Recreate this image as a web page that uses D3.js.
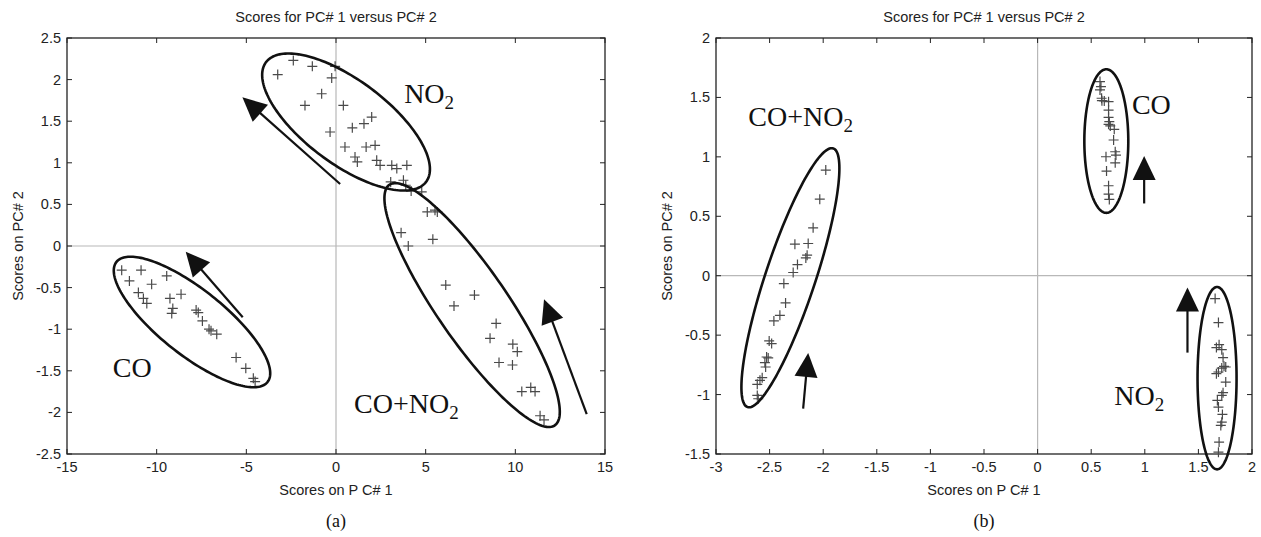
<!DOCTYPE html>
<html>
<head>
<meta charset="utf-8">
<script src="https://cdn.jsdelivr.net/npm/d3@7/dist/d3.min.js"></script>
<style>
  html, body { margin: 0; padding: 0; background: #fff; }
  svg { display: block; }
  .tick-label, .axis-title, .plot-title { font-family: "Liberation Sans", Arial, sans-serif; fill: #222; }
  .serif { font-family: "Liberation Serif", "Times New Roman", serif; fill: #111; }
</style>
</head>
<body>
<svg id="chart" width="1261" height="537"></svg>
<script>
// ---------- Panel (a): PCA scores, wide PC#1 range ----------
const aXTicks = [-15, -10, -5, 0, 5, 10, 15];
const aYTicks = [2.5, 2, 1.5, 1, 0.5, 0, -0.5, -1, -1.5, -2, -2.5];

const aNO2 = [
  [-3.25, 2.06], [-2.38, 2.23], [-1.32, 2.16], [-0.05, 2.16], [-0.24, 2.02],
  [-0.80, 1.83], [-1.73, 1.69], [0.41, 1.69], [-0.33, 1.37], [0.91, 1.42],
  [1.56, 1.47], [1.99, 1.55], [0.50, 1.19], [1.68, 1.19], [2.18, 1.21],
  [1.06, 1.07], [1.19, 1.01], [2.27, 1.03], [2.46, 0.97], [3.11, 0.97],
  [3.39, 0.93], [3.95, 0.97], [3.05, 0.77], [3.76, 0.79], [3.89, 0.73]
];
const aCONO2 = [
  [4.19, 0.66], [4.78, 0.65], [5.09, 0.41], [5.52, 0.43], [5.65, 0.41],
  [3.63, 0.16], [4.03, 0.00], [5.40, 0.08], [6.12, -0.47], [6.58, -0.72],
  [7.72, -0.59], [8.93, -0.93], [8.59, -1.11], [9.86, -1.18], [10.11, -1.27],
  [9.09, -1.40], [9.84, -1.43], [10.36, -1.75], [10.86, -1.70], [11.10, -1.75],
  [11.38, -2.04], [11.60, -2.09]
];
const aCO = [
  [-11.95, -0.29], [-10.87, -0.29], [-11.52, -0.42], [-10.28, -0.46], [-9.44, -0.36],
  [-11.02, -0.56], [-10.74, -0.63], [-10.55, -0.69], [-9.26, -0.63], [-8.64, -0.58],
  [-9.10, -0.75], [-9.16, -0.81], [-7.80, -0.77], [-7.68, -0.80], [-7.45, -0.90],
  [-7.08, -1.00], [-6.97, -1.02], [-6.65, -1.06], [-5.57, -1.34], [-5.03, -1.47],
  [-4.61, -1.59], [-4.51, -1.63]
];

// Ellipses: centre plus two conjugate semi-axis vectors, all in score units
const aEllipses = [
  { cx: 0.56, cy: 1.49, ux: 4.46, uy: -0.72, vx: -1.41, vy: -0.40 },
  { cx: 7.59, cy: -0.71, ux: 4.61, uy: -1.446, vx: -1.63, vy: -0.24 },
  { cx: -8.03, cy: -0.913, ux: 4.21, uy: -0.722, vx: -1.14, vy: -0.307 }
];
// Arrows: [tailX, tailY, tipX, tipY]
const aArrows = [
  [0.23, 0.745, -5.22, 1.787],
  [-5.20, -0.857, -8.38, -0.069],
  [13.98, -2.02, 11.60, -0.64]
];
const aLabels = [
  { main: "NO", sub: "2", x: 3.80, y: 1.72 },
  { main: "CO", sub: "", x: -12.45, y: -1.575 },
  { main: "CO+NO", sub: "2", x: 1.01, y: -2.007 }
];

// ---------- Panel (b): PCA scores, narrow PC#1 range ----------
const bXTicks = [-3, -2.5, -2, -1.5, -1, -0.5, 0, 0.5, 1, 1.5, 2];
const bYTicks = [2, 1.5, 1, 0.5, 0, -0.5, -1, -1.5];

const bCONO2 = [
  [-1.976, 0.889], [-2.032, 0.644], [-2.094, 0.403], [-2.264, 0.265], [-2.140, 0.271],
  [-2.150, 0.173], [-2.162, 0.150], [-2.240, 0.094], [-2.280, 0.027], [-2.367, -0.066],
  [-2.351, -0.229], [-2.404, -0.333], [-2.460, -0.380], [-2.504, -0.549], [-2.481, -0.571],
  [-2.528, -0.684], [-2.513, -0.692], [-2.544, -0.731], [-2.537, -0.768], [-2.569, -0.858],
  [-2.590, -0.880], [-2.615, -0.914], [-2.615, -1.007], [-2.606, -1.035]
];
const bCO = [
  [0.582, 1.633], [0.591, 1.591], [0.582, 1.563], [0.597, 1.493], [0.600, 1.473],
  [0.622, 1.470], [0.662, 1.464], [0.662, 1.394], [0.662, 1.333], [0.669, 1.296],
  [0.662, 1.274], [0.678, 1.260], [0.715, 1.232], [0.709, 1.142], [0.724, 1.043],
  [0.731, 1.015], [0.724, 0.950], [0.638, 1.001], [0.643, 0.880], [0.662, 0.757],
  [0.662, 0.687], [0.669, 0.642]
];
const bNO2 = [
  [1.656, -0.192], [1.687, -0.394], [1.693, -0.580], [1.668, -0.605], [1.718, -0.622],
  [1.730, -0.689], [1.739, -0.762], [1.718, -0.777], [1.755, -0.768], [1.668, -0.824],
  [1.687, -0.810], [1.755, -0.895], [1.730, -0.984], [1.718, -1.007], [1.677, -1.049],
  [1.687, -1.105], [1.724, -1.167], [1.718, -1.232], [1.709, -1.260], [1.693, -1.400],
  [1.687, -1.485]
];

const bEllipses = [
  { cx: -2.306, cy: -0.017, ux: 0.400, uy: 1.088, vx: 0.221, vy: -0.0666 },
  { cx: 0.641, cy: 1.133, ux: 0, uy: 0.604, vx: 0.205, vy: 0 },
  { cx: 1.674, cy: -0.862, ux: 0, uy: 0.767, vx: 0.182, vy: 0 }
];
const bArrows = [
  [-2.187, -1.119, -2.140, -0.650],
  [0.994, 0.608, 0.994, 1.007],
  [1.398, -0.647, 1.398, -0.099]
];
const bLabels = [
  { main: "CO+NO", sub: "2", x: -2.699, y: 1.259 },
  { main: "CO", sub: "", x: 0.880, y: 1.361 },
  { main: "NO", sub: "2", x: 0.715, y: -1.091 }
];

const svg = d3.select("#chart");

function drawPanel(cfg) {
  const { box, xDomain, yDomain, xTicks, yTicks, groups, ellipses, arrows, labels, caption } = cfg;
  const x = d3.scaleLinear().domain(xDomain).range([box.left, box.right]);
  const y = d3.scaleLinear().domain(yDomain).range([box.bottom, box.top]);
  const g = svg.append("g");
  const tickLen = 5;
  const fs = 14.5;

  // zero reference lines
  g.append("line").attr("x1", x(0)).attr("x2", x(0)).attr("y1", box.top).attr("y2", box.bottom)
    .attr("stroke", "#b8b8b8").attr("stroke-width", 1.2);
  g.append("line").attr("x1", box.left).attr("x2", box.right).attr("y1", y(0)).attr("y2", y(0))
    .attr("stroke", "#b8b8b8").attr("stroke-width", 1.2);

  // inward ticks on all four sides
  const tg = g.append("g").attr("stroke", "#222").attr("stroke-width", 1);
  xTicks.forEach(t => {
    tg.append("line").attr("x1", x(t)).attr("x2", x(t)).attr("y1", box.bottom).attr("y2", box.bottom - tickLen);
    tg.append("line").attr("x1", x(t)).attr("x2", x(t)).attr("y1", box.top).attr("y2", box.top + tickLen);
  });
  yTicks.forEach(t => {
    tg.append("line").attr("x1", box.left).attr("x2", box.left + tickLen).attr("y1", y(t)).attr("y2", y(t));
    tg.append("line").attr("x1", box.right).attr("x2", box.right - tickLen).attr("y1", y(t)).attr("y2", y(t));
  });

  // frame
  g.append("rect").attr("x", box.left).attr("y", box.top)
    .attr("width", box.right - box.left).attr("height", box.bottom - box.top)
    .attr("fill", "none").attr("stroke", "#222").attr("stroke-width", 1.3);

  // tick labels
  g.selectAll(".xl").data(xTicks).join("text").attr("class", "tick-label")
    .attr("x", d => x(d)).attr("y", box.bottom + 18).attr("text-anchor", "middle")
    .attr("font-size", fs).text(d => d3.format("")(d).replace("−", "-"));
  g.selectAll(".yl").data(yTicks).join("text").attr("class", "tick-label")
    .attr("x", box.left - 6).attr("y", d => y(d) + 5).attr("text-anchor", "end")
    .attr("font-size", fs).text(d => d3.format("")(d).replace("−", "-"));

  const cx = (box.left + box.right) / 2;
  g.append("text").attr("class", "plot-title").attr("x", cx).attr("y", 22)
    .attr("text-anchor", "middle").attr("font-size", fs).text("Scores for PC# 1 versus PC# 2");
  g.append("text").attr("class", "axis-title").attr("x", cx).attr("y", box.bottom + 41)
    .attr("text-anchor", "middle").attr("font-size", fs).text("Scores on P C# 1");
  g.append("text").attr("class", "axis-title")
    .attr("transform", `translate(${box.left - 44},${(box.top + box.bottom) / 2}) rotate(-90)`)
    .attr("text-anchor", "middle").attr("font-size", fs).text("Scores on PC# 2");
  g.append("text").attr("class", "serif").attr("x", cx).attr("y", box.bottom + 73)
    .attr("text-anchor", "middle").attr("font-size", 18).text(caption);

  // score markers
  const plus = "M-5,0H5M0,-5V5";
  groups.forEach(pts => {
    g.append("g").selectAll("path").data(pts).join("path")
      .attr("d", plus).attr("transform", d => `translate(${x(d[0])},${y(d[1])})`)
      .attr("stroke", "#4a4a4a").attr("stroke-width", 1.2).attr("fill", "none");
  });

  // cluster ellipses
  const ts = d3.range(0, 2 * Math.PI, Math.PI / 90);
  const line = d3.line().curve(d3.curveLinearClosed);
  ellipses.forEach(e => {
    const pts = ts.map(t => [
      x(e.cx + e.ux * Math.cos(t) + e.vx * Math.sin(t)),
      y(e.cy + e.uy * Math.cos(t) + e.vy * Math.sin(t))
    ]);
    g.append("path").attr("d", line(pts)).attr("fill", "none")
      .attr("stroke", "#111").attr("stroke-width", 2.6);
  });

  // drift arrows
  arrows.forEach(a => {
    const tx = x(a[0]), ty = y(a[1]), px = x(a[2]), py = y(a[3]);
    const len = Math.hypot(px - tx, py - ty);
    const dx = (px - tx) / len, dy = (py - ty) / len;
    const L = 24, W = 11.5;
    const bx = px - dx * L, by = py - dy * L;
    g.append("line").attr("x1", tx).attr("y1", ty).attr("x2", bx + dx * 2).attr("y2", by + dy * 2)
      .attr("stroke", "#111").attr("stroke-width", 2.2);
    g.append("path")
      .attr("d", `M${px},${py}L${bx - dy * W},${by + dx * W}L${bx + dy * W},${by - dx * W}Z`)
      .attr("fill", "#111");
  });

  // gas labels
  labels.forEach(l => {
    const t = g.append("text").attr("class", "serif").attr("x", x(l.x)).attr("y", y(l.y))
      .attr("font-size", 28);
    t.append("tspan").text(l.main);
    if (l.sub) t.append("tspan").attr("dy", 6).attr("font-size", 19).text(l.sub);
  });
}

drawPanel({
  box: { left: 67, right: 605, top: 38, bottom: 454 },
  xDomain: [-15, 15], yDomain: [-2.5, 2.5],
  xTicks: aXTicks, yTicks: aYTicks,
  groups: [aNO2, aCONO2, aCO],
  ellipses: aEllipses, arrows: aArrows, labels: aLabels, caption: "(a)"
});

drawPanel({
  box: { left: 716, right: 1252, top: 38, bottom: 454 },
  xDomain: [-3, 2], yDomain: [-1.5, 2],
  xTicks: bXTicks, yTicks: bYTicks,
  groups: [bCONO2, bCO, bNO2],
  ellipses: bEllipses, arrows: bArrows, labels: bLabels, caption: "(b)"
});
</script>
</body>
</html>
